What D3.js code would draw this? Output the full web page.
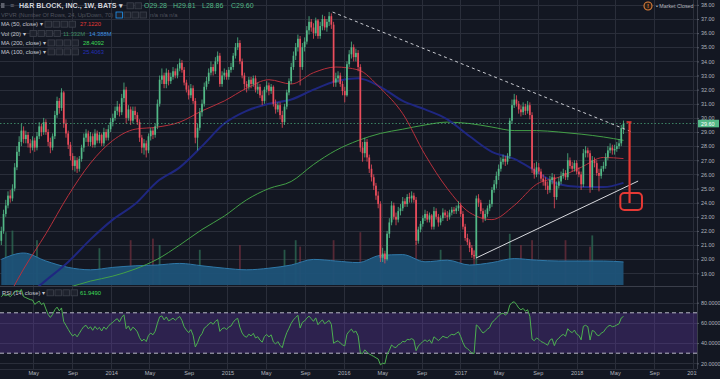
<!DOCTYPE html>
<html><head><meta charset="utf-8">
<script src="https://cdn.jsdelivr.net/npm/d3@7"></script>
<style>
html,body{margin:0;padding:0;background:#131722;overflow:hidden}
svg{display:block;font-family:"Liberation Sans",Arial,sans-serif}
</style></head>
<body><svg id="c" width="720" height="379"></svg>
<script>
// ---------- DATA (weekly candles) ----------
const firstWeek = "2013-01-21";
const opens = [
21.3,22.0,23.2,23.8,24.5,24.3,25.0,26.5,27.6,28.3,
29.1,28.5,28.8,28.2,27.9,28.4,27.9,28.7,29.4,29.0,
29.7,29.0,28.3,27.9,28.7,30.2,31.2,30.7,31.8,29.6,
28.9,28.1,27.3,26.6,27.0,26.4,27.1,27.9,28.6,28.9,
28.3,28.7,28.1,28.9,28.4,28.8,28.2,29.0,28.6,29.2,
29.7,30.0,30.5,30.8,30.4,31.4,32.0,30.0,30.6,29.8,
30.5,30.2,29.7,28.6,27.9,28.2,27.7,28.7,29.1,28.8,
29.4,31.0,32.7,33.0,32.4,33.2,32.6,32.9,33.3,33.0,
33.5,33.9,33.4,32.5,32.0,31.6,32.1,31.2,28.6,29.3,
30.4,31.0,32.2,32.6,33.2,33.6,33.3,34.0,34.4,32.4,
33.0,33.2,32.9,33.4,33.6,34.4,35.0,35.3,34.0,33.0,
32.4,32.2,32.7,32.4,32.8,32.0,32.2,31.6,31.2,32.0,
32.3,31.9,32.2,31.0,30.6,30.9,30.2,29.7,30.8,31.8,
32.6,33.6,34.4,35.0,35.6,33.6,35.0,35.4,36.2,36.8,
36.4,36.0,36.9,35.8,36.5,37.0,36.4,36.8,37.2,36.6,
32.5,32.8,33.0,32.4,31.9,31.6,33.8,34.5,35.0,34.3,
34.6,33.6,27.9,27.5,28.3,27.2,26.4,25.8,25.2,24.5,
23.9,20.1,20.4,20.0,21.8,22.6,23.8,23.0,22.8,23.4,
23.6,24.1,23.9,24.4,24.3,24.5,24.2,21.3,22.1,22.5,
22.9,23.2,22.8,23.1,22.3,23.4,23.0,22.6,22.9,23.3,
23.1,23.0,23.3,23.5,23.4,23.6,23.8,23.2,22.3,21.5,
21.2,20.8,20.3,20.2,24.3,24.0,23.4,22.9,23.2,23.6,
23.9,24.9,25.3,25.9,26.4,26.9,27.1,26.9,27.3,29.8,
30.9,31.3,31.0,30.6,30.4,30.8,30.5,30.9,30.2,26.4,
26.0,26.5,26.2,25.7,25.5,25.2,24.9,25.6,25.8,24.4,
25.2,25.5,25.9,26.1,25.8,27.0,26.6,26.4,26.8,26.2,
26.0,25.3,27.5,27.7,27.5,25.1,27.0,26.8,26.1,25.9,
26.4,26.6,27.2,27.7,27.9,27.7,27.8,28.0,28.2,29.28];
const highs = [
22.3,23.5,24.2,24.8,24.9,25.3,26.8,28.0,28.7,29.6,
29.4,29.1,29.0,28.5,28.7,28.6,29.0,29.7,29.6,30.0,
29.9,29.2,28.6,28.9,30.5,31.5,31.4,32.1,31.9,29.9,
29.1,28.3,27.5,27.3,27.2,27.3,28.1,28.9,29.2,29.1,
29.0,28.9,29.2,29.1,29.0,28.9,29.3,29.2,29.5,30.0,
30.3,30.8,31.2,31.0,31.7,32.5,32.2,30.9,30.8,30.8,
30.8,30.4,29.9,28.8,28.5,28.4,28.9,29.3,29.3,29.6,
31.3,33.0,33.5,33.2,33.5,33.4,33.2,33.6,33.5,33.8,
34.2,34.1,33.6,32.7,32.3,32.4,32.3,31.4,29.6,30.7,
31.3,32.5,32.9,33.5,34.0,33.8,34.3,34.7,34.6,33.3,
33.5,33.4,33.6,33.9,34.6,35.3,35.7,35.5,34.2,33.2,
32.6,32.9,32.9,33.0,33.0,32.5,32.4,31.9,32.2,32.6,
32.5,32.4,32.3,31.3,31.1,31.1,30.5,31.0,32.0,32.8,
33.9,34.7,35.3,35.9,35.8,35.3,35.7,36.5,37.2,37.0,
36.7,37.1,37.0,36.8,37.3,37.2,37.0,37.5,37.4,36.8,
33.2,33.3,33.2,32.6,32.2,34.0,34.8,35.4,35.2,34.9,
34.8,33.8,28.3,28.6,28.5,27.4,26.7,26.0,25.4,24.8,
24.1,20.8,20.6,22.0,22.9,24.1,24.0,23.3,23.7,23.9,
24.4,24.3,24.6,24.7,24.8,24.7,24.4,22.3,22.7,23.1,
23.5,23.4,23.3,23.2,23.7,23.6,23.2,23.1,23.6,23.5,
23.4,23.5,23.7,23.7,23.8,24.1,24.0,23.4,22.5,21.8,
21.4,21.0,20.6,24.5,24.6,24.2,23.6,23.5,23.8,24.2,
25.1,25.6,26.2,26.7,27.2,27.4,27.3,27.5,30.0,31.3,
31.7,31.6,31.2,30.9,31.1,31.0,31.2,31.1,30.4,26.8,
26.9,26.8,26.4,26.0,25.8,25.5,25.9,26.1,26.0,25.5,
25.8,26.2,26.4,26.3,27.5,27.2,26.9,27.0,27.0,26.5,
26.2,27.8,28.0,27.9,27.7,27.3,27.2,27.0,26.4,26.6,
26.9,27.5,28.0,28.2,28.1,28.1,28.3,28.5,29.5,29.81];
const lows = [
21.0,21.8,23.0,23.6,24.0,24.1,24.8,26.3,27.3,28.0,
28.2,28.2,27.9,27.5,27.7,27.6,27.7,28.5,28.7,28.8,
28.8,28.0,27.5,27.7,28.5,30.0,30.3,30.5,29.3,28.6,
27.8,27.0,26.3,26.2,26.1,26.2,26.9,27.6,28.3,28.0,
28.0,27.9,27.9,28.2,28.2,28.0,28.0,28.4,28.4,29.0,
29.4,29.8,30.2,30.1,30.2,31.1,29.6,29.8,29.5,29.6,
29.9,29.5,28.3,27.5,27.4,27.2,27.5,28.4,28.5,28.6,
29.2,30.8,32.4,32.1,32.1,32.3,32.4,32.7,32.8,32.8,
33.3,33.2,32.3,31.8,31.3,31.4,31.0,28.2,27.7,29.1,
30.1,30.8,32.0,32.4,33.0,33.0,33.1,33.8,32.2,32.2,
32.7,32.7,32.7,33.2,33.4,34.2,34.8,33.8,32.8,32.0,
31.8,32.0,32.1,32.2,31.8,31.7,31.4,30.9,31.0,31.8,
31.6,31.7,30.8,30.3,30.4,29.9,29.3,29.5,30.6,31.6,
32.4,33.4,34.1,34.7,32.3,33.4,34.7,35.2,35.9,36.1,
35.6,35.8,35.6,35.6,36.2,36.2,36.1,36.5,36.3,32.2,
32.2,32.5,32.2,31.6,31.1,31.5,33.6,34.2,34.0,34.0,
33.3,27.6,26.9,27.2,26.9,26.1,25.5,24.9,24.2,23.6,
19.8,19.8,19.7,19.9,21.5,22.4,22.8,22.4,22.6,23.1,
23.4,23.7,23.7,24.0,24.0,24.0,21.0,21.1,21.9,22.3,
22.7,22.6,22.6,22.1,22.1,22.8,22.3,22.4,22.7,22.9,
22.7,22.8,23.1,23.2,23.2,23.4,23.0,22.1,21.3,21.0,
20.5,20.1,20.0,20.1,23.7,23.2,22.6,22.7,23.0,23.4,
23.7,24.7,25.0,25.6,26.2,26.7,26.6,26.7,27.1,29.6,
30.7,30.8,30.3,30.1,30.2,30.2,30.3,29.9,26.1,25.7,
25.8,26.0,25.5,25.2,24.9,24.6,24.7,25.3,23.6,24.2,
25.0,25.3,25.7,25.6,25.6,26.4,26.2,26.2,26.0,25.8,
24.9,25.1,27.2,27.2,24.7,24.9,26.5,25.9,24.8,25.7,
26.2,26.4,27.0,27.5,27.4,27.4,27.6,27.8,28.0,28.86];
const closes = [
22.0,23.2,23.8,24.5,24.3,25.0,26.5,27.6,28.3,29.1,
28.5,28.8,28.2,27.9,28.4,27.9,28.7,29.4,29.0,29.7,
29.0,28.3,27.9,28.7,30.2,31.2,30.7,31.8,29.6,28.9,
28.1,27.3,26.6,27.0,26.4,27.1,27.9,28.6,28.9,28.3,
28.7,28.1,28.9,28.4,28.8,28.2,29.0,28.6,29.2,29.7,
30.0,30.5,30.8,30.4,31.4,32.0,30.0,30.6,29.8,30.5,
30.2,29.7,28.6,27.9,28.2,27.7,28.7,29.1,28.8,29.4,
31.0,32.7,33.0,32.4,33.2,32.6,32.9,33.3,33.0,33.5,
33.9,33.4,32.5,32.0,31.6,32.1,31.2,28.6,29.3,30.4,
31.0,32.2,32.6,33.2,33.6,33.3,34.0,34.4,32.4,33.0,
33.2,32.9,33.4,33.6,34.4,35.0,35.3,34.0,33.0,32.4,
32.2,32.7,32.4,32.8,32.0,32.2,31.6,31.2,32.0,32.3,
31.9,32.2,31.0,30.6,30.9,30.2,29.7,30.8,31.8,32.6,
33.6,34.4,35.0,35.6,33.6,35.0,35.4,36.2,36.8,36.4,
36.0,36.9,35.8,36.5,37.0,36.4,36.8,37.2,36.6,32.5,
32.8,33.0,32.4,31.9,31.6,33.8,34.5,35.0,34.3,34.6,
33.6,27.9,27.5,28.3,27.2,26.4,25.8,25.2,24.5,23.9,
20.1,20.4,20.0,21.8,22.6,23.8,23.0,22.8,23.4,23.6,
24.1,23.9,24.4,24.3,24.5,24.2,21.3,22.1,22.5,22.9,
23.2,22.8,23.1,22.3,23.4,23.0,22.6,22.9,23.3,23.1,
23.0,23.3,23.5,23.4,23.6,23.8,23.2,22.3,21.5,21.2,
20.8,20.3,20.2,24.3,24.0,23.4,22.9,23.2,23.6,23.9,
24.9,25.3,25.9,26.4,26.9,27.1,26.9,27.3,29.8,30.9,
31.3,31.0,30.6,30.4,30.8,30.5,30.9,30.2,26.4,26.0,
26.5,26.2,25.7,25.5,25.2,24.9,25.6,25.8,24.4,25.2,
25.5,25.9,26.1,25.8,27.0,26.6,26.4,26.8,26.2,26.0,
25.3,27.5,27.7,27.5,25.1,27.0,26.8,26.1,25.9,26.4,
26.6,27.2,27.7,27.9,27.7,27.8,28.0,28.2,29.28,29.60];

// moving averages / volume average read every 10 weeks (week index 0,10,...,270,279)
const maSampleWeeks = [0,10,20,30,40,50,60,70,80,90,100,110,120,130,140,150,160,170,180,190,200,210,220,230,240,250,260,270,279];
const ma50  = [16.4,19.3,21.8,24.5,26.8,28.4,29.2,29.35,29.7,30.5,31.2,32.1,32.7,32.4,33.2,33.6,33.4,32.1,30.3,27.4,25.0,23.3,22.8,23.8,25.3,25.8,26.5,27.2,27.12];
const ma100 = [16.0,17.2,18.5,19.8,21.4,22.8,23.9,25.5,26.5,28.0,29.6,30.5,31.0,31.3,32.0,32.6,32.8,32.2,31.2,30.6,29.9,28.7,27.6,27.1,26.2,25.3,25.1,25.1,25.4];
const ma200 = [16.9,17.25,17.7,18.0,18.45,18.8,19.3,20.0,21.0,22.1,23.05,24.2,25.0,25.5,26.7,27.7,28.4,28.9,29.2,29.5,29.7,29.6,29.35,29.1,29.1,29.0,28.85,28.65,28.41];
const volMA = [16,20,15,11,9.5,11,12,12.5,13.5,12,10.5,9.5,10.5,12.5,16,15,14,18.5,19,14.5,15.5,12.5,14,16.5,15.5,15,15,15,14.4];

// volume bars that show above the average area (week index, millions)
const volSpikeWeek = [2,5,16,44,58,68,71,89,107,127,132,134,149,161,170,186,197,206,212,213,228,233,238,253,264,265];
const volSpikeVal  = [33,34,28,23,28,29,25,22,25,22,28,24,28,33,25,27,22,25,22,28,32,25,28,28,24,31];

// RSI for the first weeks (before 14 closes exist)
const rsiHead = [86,88,87,88,86,88,91,92,91,93,86,85,84,83];

const priceTicks = [19,20,21,22,23,24,25,26,27,28,29,30,31,32,33,34,35,36,37,38];
const rsiTicks = [20,40,60,80];
const lastPrice = 29.60;
const resistance = [["2015-11-27",37.49],["2018-06-24",29.0]];
const support = [["2017-02-19",20.08],["2018-07-13",25.53]];
const redDrop = [["2018-06-16",29.71],["2018-06-16",23.97]];
const redBox = [["2018-05-18",24.68],["2018-07-25",23.48]];

// ---------- DRAW ----------
const svg = d3.select("#c");
const W=720, H=379, AX=697, MAINB=286, RSIT=287, RSIB=369;
const UP="#53b987", DN="#eb4d5c", GRID="#2a2e3a", TXT="#b2b5be";
const parse = d3.timeParse("%Y-%m-%d");
const dates = closes.map((_,i)=>d3.timeDay.offset(parse(firstWeek), 7*i));
const x = d3.scaleTime().domain([dates[0], dates[dates.length-1]]).range([1.3, 623.5]);
const y = d3.scaleLinear().domain([19,37]).range([273.3,19]);
const yr = d3.scaleLinear().domain([20,80]).range([363.3,302.7]);
const yv = d3.scaleLinear().domain([0,100]).range([285,125]);

svg.append("rect").attr("width",W).attr("height",H).attr("fill","#131722");
const defs = svg.append("defs");
defs.append("clipPath").attr("id","cm").append("rect").attr("x",0).attr("y",0).attr("width",AX).attr("height",MAINB);
defs.append("clipPath").attr("id","cr").append("rect").attr("x",0).attr("y",RSIT).attr("width",AX).attr("height",RSIB-RSIT);

const timeTicks = d3.timeMonth.every(4).range(new Date(2013,0,1), new Date(2019,1,1)).filter(d=>x(d)>5);

// grid
const grid = svg.append("g").attr("stroke",GRID).attr("stroke-width",1);
grid.selectAll(".gh").data(priceTicks).join("line")
  .attr("x1",0).attr("x2",AX).attr("y1",d=>Math.round(y(d))+0.5).attr("y2",d=>Math.round(y(d))+0.5);
grid.selectAll(".gr").data(rsiTicks).join("line")
  .attr("x1",0).attr("x2",AX).attr("y1",d=>Math.round(yr(d))+0.5).attr("y2",d=>Math.round(yr(d))+0.5);
grid.selectAll(".gv").data(timeTicks.filter(d=>x(d)<AX)).join("line")
  .attr("x1",d=>Math.round(x(d))+0.5).attr("x2",d=>Math.round(x(d))+0.5).attr("y1",0).attr("y2",RSIB);

// main pane
const main = svg.append("g").attr("clip-path","url(#cm)");
const candles = closes.map((c,i)=>({d:dates[i],o:opens[i],h:highs[i],l:lows[i],c:c,i:i}));

// volume spikes
main.append("g").selectAll("rect").data(volSpikeWeek.map((w,k)=>({w:w,v:volSpikeVal[k]}))).join("rect")
  .attr("x",d=>x(dates[d.w])-0.9).attr("width",1.8)
  .attr("y",d=>yv(d.v)).attr("height",d=>yv(0)-yv(d.v))
  .attr("fill",d=>closes[d.w]>=opens[d.w]?"#2f6e55":"#6e2f3c").attr("opacity",0.75);

// volume average area
const volPts = maSampleWeeks.map((w,k)=>({d:dates[w],v:volMA[k]}));
main.append("path").datum(volPts)
  .attr("d",d3.area().x(d=>x(d.d)).y0(yv(0)).y1(d=>yv(d.v)).curve(d3.curveMonotoneX))
  .attr("fill","#1e5379").attr("opacity",0.95);
main.append("path").datum(volPts)
  .attr("d",d3.line().x(d=>x(d.d)).y(d=>yv(d.v)).curve(d3.curveMonotoneX))
  .attr("fill","none").attr("stroke","#2f78a8").attr("stroke-width",1);

// moving averages
function maLine(vals,color,w){
  const pts = maSampleWeeks.map((wk,k)=>({d:dates[wk],v:vals[k]}));
  main.append("path").datum(pts)
    .attr("d",d3.line().x(d=>x(d.d)).y(d=>y(d.v)).curve(d3.curveMonotoneX))
    .attr("fill","none").attr("stroke",color).attr("stroke-width",w);
}
maLine(ma200,"#43a047",1);
maLine(ma100,"#1f2780",2);
maLine(ma50,"#b7303c",1);

// candles
const cg = main.append("g");
cg.selectAll("line").data(candles).join("line")
  .attr("x1",d=>x(d.d)).attr("x2",d=>x(d.d))
  .attr("y1",d=>y(d.h)).attr("y2",d=>y(d.l))
  .attr("stroke",d=>d.c>=d.o?UP:DN).attr("stroke-width",0.8);
cg.selectAll("rect").data(candles).join("rect")
  .attr("x",d=>x(d.d)-0.85).attr("width",1.7)
  .attr("y",d=>y(Math.max(d.o,d.c)))
  .attr("height",d=>Math.max(0.8,Math.abs(y(d.o)-y(d.c))))
  .attr("fill",d=>d.c>=d.o?UP:DN);

// last price dotted line
main.append("line").attr("x1",0).attr("x2",AX).attr("y1",y(lastPrice)).attr("y2",y(lastPrice))
  .attr("stroke",UP).attr("stroke-dasharray","1.5,2").attr("stroke-width",0.8).attr("opacity",0.85);

// drawings
const P = p=>[x(parse(p[0])), y(p[1])];
const r0=P(resistance[0]), r1=P(resistance[1]);
main.append("line").attr("x1",r0[0]).attr("y1",r0[1]).attr("x2",r1[0]).attr("y2",r1[1])
  .attr("stroke","#c9cbd1").attr("stroke-width",1).attr("stroke-dasharray","3,3");
const s0=P(support[0]), s1=P(support[1]);
main.append("line").attr("x1",s0[0]).attr("y1",s0[1]).attr("x2",s1[0]).attr("y2",s1[1])
  .attr("stroke","#d8d9de").attr("stroke-width",1);
const d0=P(redDrop[0]), d1=P(redDrop[1]);
main.append("line").attr("x1",d0[0]).attr("y1",d0[1]).attr("x2",d1[0]).attr("y2",d1[1])
  .attr("stroke","#e53935").attr("stroke-width",2.2);
main.append("line").attr("x1",d0[0]-3).attr("y1",d0[1]).attr("x2",d0[0]+2).attr("y2",d0[1])
  .attr("stroke","#e53935").attr("stroke-width",1.5);
const b0=P(redBox[0]), b1=P(redBox[1]);
main.append("rect").attr("x",b0[0]).attr("y",b0[1]).attr("width",b1[0]-b0[0]).attr("height",b1[1]-b0[1])
  .attr("rx",4).attr("fill","none").attr("stroke","#e53935").attr("stroke-width",2);

// RSI pane
const rsiG = svg.append("g").attr("clip-path","url(#cr)");
rsiG.append("rect").attr("x",0).attr("width",AX).attr("y",yr(70)).attr("height",yr(30)-yr(70))
  .attr("fill","#6a3bb5").attr("opacity",0.3);
[70,30].forEach(v=>rsiG.append("line").attr("x1",0).attr("x2",AX).attr("y1",yr(v)).attr("y2",yr(v))
  .attr("stroke","#b8b9c6").attr("stroke-dasharray","4,3").attr("stroke-width",1));
function computeRSI(c,n){
  const out = rsiHead.slice();
  let g=0,l=0;
  for(let i=1;i<=n;i++){const dd=c[i]-c[i-1]; g+=Math.max(dd,0); l+=Math.max(-dd,0);}
  let ag=g/n, al=l/n;
  out[n]=100-100/(1+ag/al);
  for(let i=n+1;i<c.length;i++){
    const dd=c[i]-c[i-1];
    ag=(ag*(n-1)+Math.max(dd,0))/n; al=(al*(n-1)+Math.max(-dd,0))/n;
    out[i]= al===0?100:100-100/(1+ag/al);
  }
  return out;
}
const rsi = computeRSI(closes,14);
rsiG.append("path").datum(rsi)
  .attr("d",d3.line().x((d,i)=>x(dates[i])).y(d=>yr(d)))
  .attr("fill","none").attr("stroke","#4caf50").attr("stroke-width",1);

// pane separators
svg.append("line").attr("x1",0).attr("x2",W).attr("y1",MAINB+0.5).attr("y2",MAINB+0.5).attr("stroke","#3a3e4a");
svg.append("line").attr("x1",0).attr("x2",AX).attr("y1",RSIB+0.5).attr("y2",RSIB+0.5).attr("stroke","#2a2e3a");

// time axis
const tAxis = svg.append("g").attr("transform",`translate(0,${RSIB})`)
  .call(d3.axisBottom(x).tickValues(timeTicks).tickSize(0).tickPadding(2.5)
    .tickFormat(d=>d.getMonth()===0?d3.timeFormat("%Y")(d):d3.timeFormat("%b")(d)));
tAxis.select(".domain").remove();
tAxis.selectAll("text").attr("fill",TXT).attr("font-size",5.6).attr("font-family","Liberation Sans, Arial, sans-serif");

// right axis panel
svg.append("rect").attr("x",AX).attr("y",0).attr("width",W-AX).attr("height",H).attr("fill","#131722");
svg.append("line").attr("x1",AX+0.5).attr("x2",AX+0.5).attr("y1",0).attr("y2",RSIB).attr("stroke","#3a3e4a");
const pAxis = svg.append("g").attr("transform",`translate(${AX},0)`)
  .call(d3.axisRight(y).tickValues(priceTicks).tickFormat(d3.format(".2f")).tickSize(2).tickPadding(2));
const rAxis = svg.append("g").attr("transform",`translate(${AX},0)`)
  .call(d3.axisRight(yr).tickValues(rsiTicks).tickFormat(d3.format(".4f")).tickSize(2).tickPadding(2));
[pAxis,rAxis].forEach(a=>{
  a.select(".domain").remove();
  a.selectAll("line").attr("stroke","#555a66");
  a.selectAll("text").attr("fill",TXT).attr("font-size",5.4).attr("font-family","Liberation Sans, Arial, sans-serif");
});
// last price tag
svg.append("rect").attr("x",AX+1).attr("y",y(lastPrice)-3.8).attr("width",W-AX-2).attr("height",7.6).attr("fill",UP);
svg.append("text").attr("x",AX+4).attr("y",y(lastPrice)+2).attr("fill","#ffffff").attr("font-size",5.4)
  .text(d3.format(".2f")(lastPrice));

// ---------- LEGEND ----------
const leg = svg.append("g").attr("font-family","Liberation Sans, Arial, sans-serif");
function boxes(x0,yc,n,first){
  for(let k=0;k<n;k++){
    leg.append("rect").attr("x",x0+k*8).attr("y",yc-3).attr("width",6.5).attr("height",6)
      .attr("fill","#1e222d").attr("stroke",k===0&&first?"#2196f3":"#3d414c").attr("stroke-width",0.8);
  }
}
// row 1
leg.append("rect").attr("x",1).attr("y",3).attr("width",3.5).attr("height",5).attr("fill","#5d606b");
leg.append("text").attr("x",10).attr("y",8.4).attr("fill","#7a7d88").attr("font-size",7).text("≡");
leg.append("text").attr("x",19).attr("y",8.4).attr("fill","#d1d4dc").attr("font-size",7.1).attr("font-weight","bold")
  .text("H&R BLOCK, INC., 1W, BATS ▾");
boxes(127,5.8,2,false);
const ohlc = [["O",opens[opens.length-1]],["H",highs[highs.length-1]],["L",lows[lows.length-1]],["C",closes[closes.length-1]]];
ohlc.forEach((o,k)=>leg.append("text").attr("x",144+k*29).attr("y",8.4).attr("fill",UP).attr("font-size",7)
  .text(o[0]+d3.format(".2f")(o[1])));
// row 2
leg.append("text").attr("x",1).attr("y",17.1).attr("fill","#50535e").attr("font-size",5.8)
  .text("VPVR (Number Of Rows, 24, Up/Down, 70)");
boxes(116,15,4,true);
leg.append("text").attr("x",150).attr("y",17.1).attr("fill","#50535e").attr("font-size",5.8).text("n/a   n/a   n/a");
// rows 3-6
function row(yb,label,bx,vals){
  leg.append("text").attr("x",1).attr("y",yb).attr("fill","#c5c8d0").attr("font-size",5.8).text(label+" ▾");
  boxes(bx,yb-2,4,false);
  vals.forEach(v=>leg.append("text").attr("x",v[0]).attr("y",yb).attr("fill",v[2]).attr("font-size",5.8).text(v[1]));
}
row(26.2,"MA (50, close)",45,[[80,"27.1220","#e53935"]]);
row(35.5,"Vol (20)",30,[[63,"11.332M","#3f8a64"],[89,"14.388M","#3d8fe0"]]);
row(44.9,"MA (200, close)",48,[[83,"28.4092","#3ddc57"]]);
row(53.9,"MA (100, close)",48,[[83,"25.4063","#2430b8"]]);
// RSI legend
leg.append("text").attr("x",2).attr("y",294.8).attr("fill","#c5c8d0").attr("font-size",5.8).text("RSI (14, close) ▾");
boxes(47,292.8,4,false);
leg.append("text").attr("x",80).attr("y",294.8).attr("fill","#3ddc57").attr("font-size",5.8).text("61.9490");

// market closed
leg.append("circle").attr("cx",648).attr("cy",6).attr("r",4).attr("fill","#2a1e18").attr("stroke","#e0813a").attr("stroke-width",1.1);
leg.append("text").attr("x",648).attr("y",8.2).attr("text-anchor","middle").attr("fill","#e0813a").attr("font-size",6).attr("font-weight","bold").text("!");
leg.append("text").attr("x",656).attr("y",8).attr("fill","#b2b5be").attr("font-size",5.3).text("• Market Closed");
</script>
</body></html>
